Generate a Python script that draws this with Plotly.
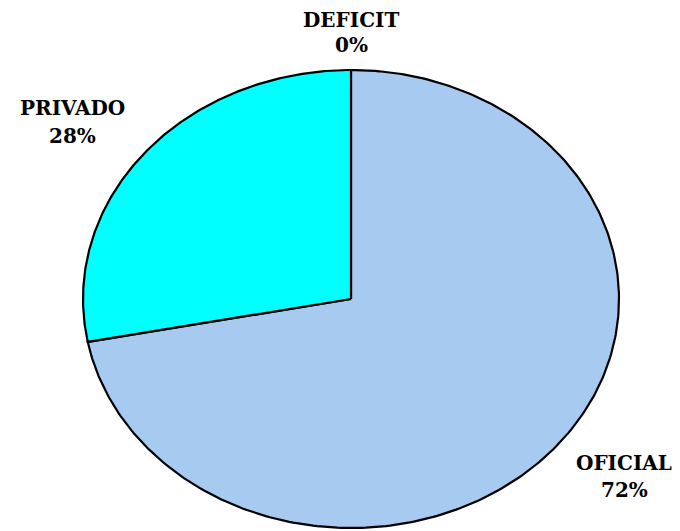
import numpy as np
import plotly.graph_objects as go

labels = ["OFICIAL", "PRIVADO", "DEFICIT"]
values = [72, 28, 0]
colors = ["#A6CAF0", "#00FFFF", "#FFFFFF"]

W, H = 680, 531
OFF = 8                 # page body margin offset compensation
cx, cy = 351 - OFF, 299 - OFF   # pie centre in pixels
a, b = 268, 229        # ellipse semi-axes in pixels

fig = go.Figure()
total = sum(values)
start = 0.0
for lab, val, col in zip(labels, values, colors):
    frac = val / total
    if frac > 0:
        th = np.linspace(start, start + frac, 300) * 2 * np.pi
        xs = np.concatenate([[0], np.sin(th), [0]])
        ys = np.concatenate([[0], np.cos(th), [0]])
        fig.add_trace(go.Scatter(x=xs, y=ys, mode="lines", fill="toself",
                                 fillcolor=col, line=dict(color="black", width=2.2),
                                 hoverinfo="text", text=lab, showlegend=False))
    start += frac

fig.update_xaxes(range=[-cx / a, (W - cx) / a], visible=False, fixedrange=True)
fig.update_yaxes(range=[-(H - cy) / b, cy / b], visible=False, fixedrange=True)

# label positions (pixel centres of the two text lines)
label_pos = {"OFICIAL": (624, 463, 490), "PRIVADO": (72, 108, 136), "DEFICIT": (351, 20, 45)}
fnt = dict(family="DejaVu Serif", size=20, color="black")
for lab, val in zip(labels, values):
    px, y1, y2 = label_pos[lab]
    px, y1, y2 = px - OFF, y1 - OFF, y2 - OFF
    pct = round(100 * val / total)
    fig.add_annotation(x=px / W, y=1 - y1 / H, xref="paper", yref="paper",
                       text=f"<b>{lab}</b>", showarrow=False, font=fnt,
                       xanchor="center", yanchor="middle", borderpad=0)
    fig.add_annotation(x=px / W, y=1 - y2 / H, xref="paper", yref="paper",
                       text=f"<b>{pct}%</b>", showarrow=False, font=fnt,
                       xanchor="center", yanchor="middle", borderpad=0)

fig.update_layout(width=W, height=H, margin=dict(l=0, r=0, t=0, b=0),
                  paper_bgcolor="white", plot_bgcolor="white")
fig.write_html("out.html")
